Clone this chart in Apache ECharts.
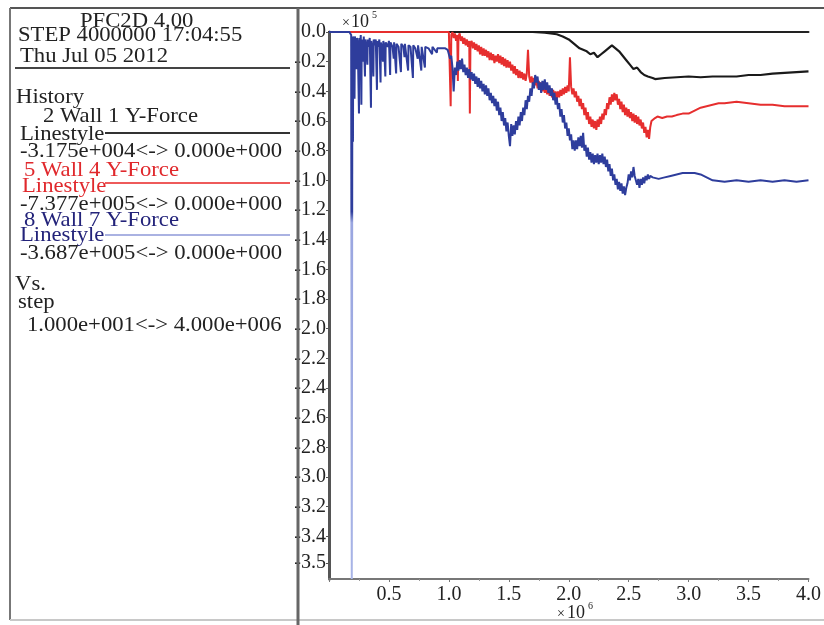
<!DOCTYPE html>
<html>
<head>
<meta charset="utf-8">
<script src="https://cdn.jsdelivr.net/npm/echarts@6/dist/echarts.min.js"></script>
<style>
html,body{margin:0;padding:0;background:#fff;}
#chart{width:824px;height:625px;}
</style>
</head>
<body>
<div id="chart"></div>
<script>
// ---- data: [step (x1e6), Y-force (x1e5)] ----
const xTickLabels = ['0.5','1.0','1.5','2.0','2.5','3.0','3.5','4.0'];
const yTickValues = [0,-0.2,-0.4,-0.6,-0.8,-1.0,-1.2,-1.4,-1.6,-1.8,-2.0,-2.2,-2.4,-2.6,-2.8,-3.0,-3.2,-3.4,-3.58];
const yTickLabels = ['0.0','-0.2','-0.4','-0.6','-0.8','-1.0','-1.2','-1.4','-1.6','-1.8','-2.0','-2.2','-2.4','-2.6','-2.8','-3.0','-3.2','-3.4','-3.5'];

const wall1 = [[0,0],[1.70,0],[1.80,-0.005],[1.90,-0.015],[1.95,-0.03],[2.00,-0.05],[2.03,-0.07],[2.06,-0.09],[2.09,-0.11],[2.12,-0.12],[2.15,-0.13],[2.18,-0.15],[2.21,-0.14],[2.24,-0.17],[2.27,-0.15],[2.30,-0.13],[2.33,-0.11],[2.36,-0.09],[2.39,-0.11],[2.42,-0.13],[2.45,-0.16],[2.48,-0.19],[2.51,-0.22],[2.54,-0.25],[2.57,-0.24],[2.60,-0.27],[2.63,-0.29],[2.66,-0.30],[2.70,-0.31],[2.72,-0.3175],[2.80,-0.31],[2.90,-0.305],[3.00,-0.30],[3.10,-0.305],[3.20,-0.30],[3.30,-0.30],[3.40,-0.30],[3.50,-0.29],[3.60,-0.29],[3.70,-0.28],[3.80,-0.275],[3.90,-0.27],[4.00,-0.265]];

const wall4 = [[0,0],[1.00,0],[1.01,-0.01],[1.015,-0.50],[1.02,-0.02],[1.03,0],[1.04,-0.04],[1.05,-0.01],[1.06,-0.06],[1.07,-0.02],[1.075,-0.33],[1.08,-0.03],[1.09,-0.01],[1.10,-0.06],[1.11,-0.03],[1.12,-0.08],[1.13,-0.04],[1.14,-0.09],[1.15,-0.05],[1.16,-0.10],[1.17,-0.06],[1.175,-0.55],[1.18,-0.08],[1.19,-0.06],
[1.20,-0.11],[1.21,-0.07],[1.22,-0.12],[1.23,-0.08],[1.24,-0.13],[1.25,-0.09],[1.26,-0.15],[1.27,-0.10],[1.28,-0.16],[1.29,-0.11],[1.30,-0.16],[1.31,-0.12],[1.32,-0.17],[1.33,-0.13],[1.34,-0.19],[1.35,-0.14],[1.36,-0.19],[1.37,-0.15],[1.38,-0.21],[1.39,-0.16],
[1.40,-0.20],[1.41,-0.15],[1.42,-0.21],[1.43,-0.16],[1.44,-0.22],[1.45,-0.17],[1.46,-0.23],[1.47,-0.18],[1.48,-0.24],[1.49,-0.19],[1.50,-0.24],[1.51,-0.20],[1.52,-0.26],[1.53,-0.22],[1.54,-0.28],[1.55,-0.23],[1.56,-0.29],[1.57,-0.25],[1.58,-0.31],[1.59,-0.26],
[1.60,-0.31],[1.61,-0.27],[1.62,-0.32],[1.63,-0.28],[1.64,-0.33],[1.65,-0.28],[1.66,-0.12],[1.67,-0.30],[1.68,-0.34],[1.69,-0.30],[1.70,-0.35],[1.71,-0.31],[1.72,-0.36],[1.73,-0.32],[1.74,-0.38],[1.75,-0.33],[1.76,-0.39],[1.77,-0.34],[1.78,-0.40],[1.79,-0.35],
[1.80,-0.41],[1.81,-0.36],[1.82,-0.42],[1.83,-0.37],[1.84,-0.43],[1.85,-0.38],[1.86,-0.44],[1.87,-0.39],[1.88,-0.44],[1.89,-0.40],[1.90,-0.45],[1.91,-0.40],[1.92,-0.44],[1.93,-0.39],[1.94,-0.43],[1.95,-0.38],[1.96,-0.42],[1.97,-0.37],[1.98,-0.41],[1.99,-0.36],
[2.00,-0.40],[2.01,-0.17],[2.02,-0.37],[2.03,-0.42],[2.04,-0.38],[2.05,-0.44],[2.06,-0.40],[2.07,-0.47],[2.08,-0.43],[2.09,-0.50],[2.10,-0.45],[2.11,-0.52],[2.12,-0.48],[2.13,-0.56],[2.14,-0.51],[2.15,-0.59],[2.16,-0.54],[2.17,-0.62],[2.18,-0.57],[2.19,-0.64],
[2.20,-0.59],[2.21,-0.65],[2.22,-0.60],[2.23,-0.66],[2.24,-0.59],[2.25,-0.64],[2.26,-0.57],[2.27,-0.62],[2.28,-0.55],[2.29,-0.59],[2.30,-0.52],[2.31,-0.56],[2.32,-0.48],[2.33,-0.52],[2.34,-0.44],[2.35,-0.49],[2.36,-0.42],[2.37,-0.47],[2.38,-0.41],[2.39,-0.46],
[2.40,-0.42],[2.41,-0.49],[2.42,-0.45],[2.43,-0.52],[2.44,-0.47],[2.45,-0.54],[2.46,-0.49],[2.47,-0.56],[2.48,-0.51],[2.49,-0.57],[2.50,-0.52],[2.51,-0.58],[2.52,-0.54],[2.53,-0.60],[2.54,-0.55],[2.55,-0.61],[2.56,-0.56],[2.57,-0.62],[2.58,-0.57],[2.59,-0.63],
[2.60,-0.59],[2.61,-0.65],[2.62,-0.61],[2.63,-0.68],[2.64,-0.64],[2.65,-0.71],[2.66,-0.66],[2.67,-0.72],[2.68,-0.64],[2.69,-0.60],[2.70,-0.59],[2.72,-0.58],[2.74,-0.57],[2.78,-0.58],[2.82,-0.57],[2.86,-0.57],[2.90,-0.56],[2.95,-0.55],[3.00,-0.55],[3.05,-0.53],
[3.10,-0.51],[3.15,-0.50],[3.20,-0.49],[3.25,-0.48],[3.30,-0.48],[3.40,-0.47],[3.50,-0.48],[3.60,-0.49],[3.70,-0.49],[3.80,-0.50],[3.90,-0.50],[4.00,-0.50]];

const wall7 = [[0,0],[0.17,0],[0.185,-0.02],[0.19,-3.687],[0.195,-0.03],[0.198,-0.02],[0.20,-0.74],[0.202,-0.03],[0.21,-0.06],[0.213,-0.45],[0.216,-0.03],[0.22,-0.07],[0.23,-0.25],[0.233,-0.04],[0.24,-0.08],[0.25,-0.55],[0.253,-0.04],[0.26,-0.09],[0.265,-0.02],[0.27,-0.49],[0.273,-0.05],[0.28,-0.10],[0.285,-0.20],[0.29,-0.03],
[0.30,-0.30],[0.303,-0.05],[0.31,-0.09],[0.32,-0.22],[0.323,-0.05],[0.33,-0.10],[0.34,-0.04],[0.35,-0.51],[0.353,-0.06],[0.36,-0.10],[0.37,-0.30],[0.373,-0.05],[0.38,-0.09],[0.39,-0.05],[0.40,-0.39],[0.403,-0.06],[0.41,-0.10],[0.42,-0.05],[0.43,-0.34],[0.433,-0.07],[0.44,-0.10],[0.45,-0.20],[0.453,-0.06],[0.46,-0.10],[0.47,-0.30],[0.473,-0.07],[0.49,-0.10],
[0.50,-0.06],[0.51,-0.29],[0.513,-0.07],[0.53,-0.10],[0.54,-0.18],[0.543,-0.07],[0.56,-0.28],[0.563,-0.08],[0.58,-0.10],[0.60,-0.27],[0.603,-0.08],[0.62,-0.10],[0.63,-0.17],[0.633,-0.08],[0.66,-0.26],[0.663,-0.09],[0.68,-0.10],[0.70,-0.31],[0.703,-0.09],[0.72,-0.11],[0.74,-0.18],[0.743,-0.09],[0.77,-0.26],[0.773,-0.10],
[0.80,-0.24],[0.803,-0.10],[0.83,-0.11],[0.86,-0.15],[0.863,-0.10],[0.90,-0.14],[0.903,-0.11],[0.94,-0.11],[0.97,-0.11],[0.99,-0.12],
[1.00,-0.12],[1.01,-0.18],[1.02,-0.16],[1.03,-0.24],[1.04,-0.40],[1.05,-0.24],[1.06,-0.29],[1.07,-0.20],[1.08,-0.26],[1.09,-0.19],[1.10,-0.25],[1.11,-0.18],[1.12,-0.27],[1.13,-0.22],[1.14,-0.29],[1.15,-0.24],[1.16,-0.31],[1.17,-0.25],[1.18,-0.32],[1.19,-0.27],
[1.20,-0.33],[1.21,-0.28],[1.22,-0.35],[1.23,-0.30],[1.24,-0.37],[1.25,-0.31],[1.26,-0.38],[1.27,-0.33],[1.28,-0.40],[1.29,-0.35],[1.30,-0.42],[1.31,-0.36],[1.32,-0.43],[1.33,-0.38],[1.34,-0.46],[1.35,-0.41],[1.36,-0.48],[1.37,-0.43],[1.38,-0.50],[1.39,-0.45],
[1.40,-0.53],[1.41,-0.47],[1.42,-0.56],[1.43,-0.51],[1.44,-0.60],[1.45,-0.54],[1.46,-0.63],[1.47,-0.58],[1.48,-0.67],[1.49,-0.61],[1.50,-0.70],[1.51,-0.77],[1.52,-0.62],[1.53,-0.70],[1.54,-0.63],[1.55,-0.69],[1.56,-0.60],[1.57,-0.66],[1.58,-0.57],[1.59,-0.63],
[1.60,-0.54],[1.61,-0.60],[1.62,-0.51],[1.63,-0.56],[1.64,-0.46],[1.65,-0.52],[1.66,-0.43],[1.67,-0.47],[1.68,-0.38],[1.69,-0.43],[1.70,-0.34],[1.71,-0.38],[1.72,-0.29],[1.73,-0.34],[1.74,-0.30],[1.75,-0.39],[1.76,-0.34],[1.77,-0.41],[1.78,-0.33],[1.79,-0.39],
[1.80,-0.32],[1.81,-0.39],[1.82,-0.34],[1.83,-0.41],[1.84,-0.36],[1.85,-0.43],[1.86,-0.38],[1.87,-0.46],[1.88,-0.41],[1.89,-0.49],[1.90,-0.44],[1.91,-0.52],[1.92,-0.48],[1.93,-0.57],[1.94,-0.52],[1.95,-0.61],[1.96,-0.56],[1.97,-0.65],[1.98,-0.61],[1.99,-0.70],
[2.00,-0.65],[2.01,-0.73],[2.02,-0.69],[2.03,-0.79],[2.04,-0.73],[2.05,-0.80],[2.06,-0.73],[2.07,-0.79],[2.08,-0.71],[2.09,-0.77],[2.10,-0.70],[2.11,-0.78],[2.12,-0.68],[2.13,-0.80],[2.14,-0.76],[2.15,-0.84],[2.16,-0.78],[2.17,-0.86],[2.18,-0.81],[2.19,-0.88],
[2.20,-0.82],[2.21,-0.89],[2.22,-0.83],[2.23,-0.88],[2.24,-0.82],[2.25,-0.89],[2.26,-0.83],[2.27,-0.88],[2.28,-0.82],[2.29,-0.89],[2.30,-0.84],[2.31,-0.91],[2.32,-0.86],[2.33,-0.94],[2.34,-0.89],[2.35,-0.97],[2.36,-0.92],[2.37,-1.00],[2.38,-0.96],[2.39,-1.03],
[2.40,-0.99],[2.41,-1.06],[2.42,-1.01],[2.43,-1.07],[2.44,-1.02],[2.45,-1.09],[2.46,-1.04],[2.47,-1.10],[2.48,-1.05],[2.49,-1.02],[2.50,-0.96],[2.51,-1.00],[2.52,-0.94],[2.53,-0.98],[2.54,-0.91],[2.55,-0.97],[2.56,-0.96],[2.57,-1.03],[2.58,-0.99],[2.59,-1.05],
[2.60,-0.99],[2.61,-1.03],[2.62,-0.98],[2.63,-1.02],[2.64,-0.97],[2.65,-1.00],[2.66,-0.96],[2.67,-0.99],[2.68,-0.97],[2.70,-0.98],[2.75,-0.99],[2.80,-0.98],[2.85,-0.97],[2.90,-0.96],[2.95,-0.95],[3.00,-0.95],[3.05,-0.95],[3.10,-0.96],[3.15,-0.98],[3.20,-1.00],
[3.30,-1.01],[3.40,-1.00],[3.50,-1.01],[3.60,-1.00],[3.70,-1.01],[3.80,-1.00],[3.90,-1.01],[4.00,-1.00]];

// ---- chart ----
const SERIF = '"Liberation Serif", "Times New Roman", serif';
const chart = echarts.init(document.getElementById('chart'), null, {renderer: 'canvas'});

const panelText = [
  ['PFC2D 4.00', 80, 28, '#222'],
  ['STEP 4000000 17:04:55', 18, 42, '#222'],
  ['Thu Jul 05 2012', 20, 63, '#222'],
  ['History', 16, 104, '#222'],
  ['2 Wall 1 Y-Force', 43, 123, '#222'],
  ['Linestyle', 20, 141, '#222'],
  ['-3.175e+004<-> 0.000e+000', 20, 158, '#222'],
  ['5 Wall 4 Y-Force', 24, 177, '#e0282c'],
  ['Linestyle', 22, 193, '#e0282c'],
  ['-7.377e+005<-> 0.000e+000', 20, 211, '#222'],
  ['8 Wall 7 Y-Force', 24, 227, '#23237a'],
  ['Linestyle', 20, 242, '#23237a'],
  ['-3.687e+005<-> 0.000e+000', 20, 260, '#222'],
  ['Vs.', 15, 291, '#222'],
  ['step', 18, 309, '#222'],
  ['1.000e+001<-> 4.000e+006', 27, 332, '#222']
];

const graphics = [];
graphics.push({type:'line', z:5, shape:{x1:10,y1:8,x2:824,y2:8}, style:{stroke:'#555', lineWidth:2}});
graphics.push({type:'line', z:5, shape:{x1:10,y1:8,x2:10,y2:620}, style:{stroke:'#777', lineWidth:2}});
graphics.push({type:'line', z:5, shape:{x1:10,y1:620,x2:824,y2:620}, style:{stroke:'#c8c8c8', lineWidth:2}});
graphics.push({type:'line', z:5, shape:{x1:298,y1:8,x2:298,y2:625}, style:{stroke:'#666', lineWidth:3}});
graphics.push({type:'line', shape:{x1:15,y1:68,x2:290,y2:68}, style:{stroke:'#444', lineWidth:2}});
graphics.push({type:'line', shape:{x1:105,y1:133,x2:290,y2:133}, style:{stroke:'#333', lineWidth:2}});
graphics.push({type:'line', shape:{x1:105,y1:183,x2:290,y2:183}, style:{stroke:'#ee5a5a', lineWidth:2}});
graphics.push({type:'line', shape:{x1:105,y1:235,x2:290,y2:235}, style:{stroke:'#aab2e2', lineWidth:2}});
panelText.forEach(([t, x, b, c]) => {
  graphics.push({type:'text', x:x, y:b - 7, scaleX:1.08,
    style:{text:t, x:0, y:0, fill:c, fontFamily:SERIF, fontSize:21, verticalAlign:'middle', align:'left'}});
});
graphics.push({type:'text', x:342, y:23, style:{text:'×', fill:'#222', fontFamily:SERIF, fontSize:14, verticalAlign:'middle'}});
graphics.push({type:'text', x:351, y:22, style:{text:'10', fill:'#222', fontFamily:SERIF, fontSize:18, verticalAlign:'middle'}});
graphics.push({type:'text', x:372, y:15, style:{text:'5', fill:'#222', fontFamily:SERIF, fontSize:10, verticalAlign:'middle'}});
graphics.push({type:'text', x:557, y:614, style:{text:'×', fill:'#222', fontFamily:SERIF, fontSize:14, verticalAlign:'middle'}});
graphics.push({type:'text', x:567, y:613, style:{text:'10', fill:'#222', fontFamily:SERIF, fontSize:18, verticalAlign:'middle'}});
graphics.push({type:'text', x:588, y:606, style:{text:'6', fill:'#222', fontFamily:SERIF, fontSize:10, verticalAlign:'middle'}});

// blue line: dark near the traces, paler along the deep initial spike (gradient over the line's own bounding box)
const blueStroke = {
  type: 'linear', x: 0, y: 0, x2: 0, y2: 1,
  colorStops: [
    {offset: 0, color: '#2e3d9c'}, {offset: 0.33, color: '#2e3d9c'},
    {offset: 0.35, color: '#9aa6e0'}, {offset: 1, color: '#a8b4e6'}
  ]
};

const option = {
  animation: false,
  backgroundColor: '#fff',
  grid: {left: 329, right: 7, top: 32, bottom: 46, containLabel: false},
  xAxis: [{
    type: 'value', min: 0, max: 4, interval: 0.5, position: 'bottom',
    axisLine: {show: true, onZero: false, lineStyle: {color: '#777', width: 2}},
    axisTick: {show: true, length: 3, lineStyle: {color: '#777'}},
    minorTick: {show: true, splitNumber: 2, length: 2, lineStyle: {color: '#999'}},
    splitLine: {show: false},
    axisLabel: {
      showMinLabel: false, margin: 6, color: '#222', fontFamily: SERIF, fontSize: 20,
      formatter: v => { const i = Math.round(v / 0.5) - 1; return i >= 0 ? xTickLabels[i] : ''; }
    }
  }, {
    type: 'value', min: 0, max: 4, position: 'top',
    axisLine: {show: true, onZero: false, lineStyle: {color: '#222', width: 2}},
    axisTick: {show: false}, axisLabel: {show: false}, splitLine: {show: false}
  }],
  yAxis: {
    type: 'value', min: -3.687, max: 0,
    axisLine: {show: true, onZero: false, lineStyle: {color: '#555', width: 3}},
    axisTick: {show: true, length: 3, customValues: yTickValues, lineStyle: {color: '#555'}},
    splitLine: {show: false},
    axisLabel: {
      customValues: yTickValues, margin: 3, color: '#222', fontFamily: SERIF, fontSize: 20,
      formatter: v => {
        let best = 0, d = 1e9;
        yTickValues.forEach((t, i) => { const dd = Math.abs(t - v); if (dd < d) { d = dd; best = i; } });
        return yTickLabels[best];
      }
    }
  },
  series: [
    {name: '2 Wall 1 Y-Force', type: 'line', data: wall1, showSymbol: false,
     lineStyle: {color: '#1a1a1a', width: 2.2}, itemStyle: {color: '#1a1a1a'}, z: 2},
    {name: '5 Wall 4 Y-Force', type: 'line', data: wall4, showSymbol: false,
     lineStyle: {color: '#e62e2e', width: 2}, itemStyle: {color: '#e62e2e'}, z: 3},
    {name: '8 Wall 7 Y-Force', type: 'line', data: wall7, showSymbol: false,
     lineStyle: {color: blueStroke, width: 2}, itemStyle: {color: '#2e3d9c'}, z: 4}
  ],
  graphic: graphics
};
chart.setOption(option);
</script>
</body>
</html>
